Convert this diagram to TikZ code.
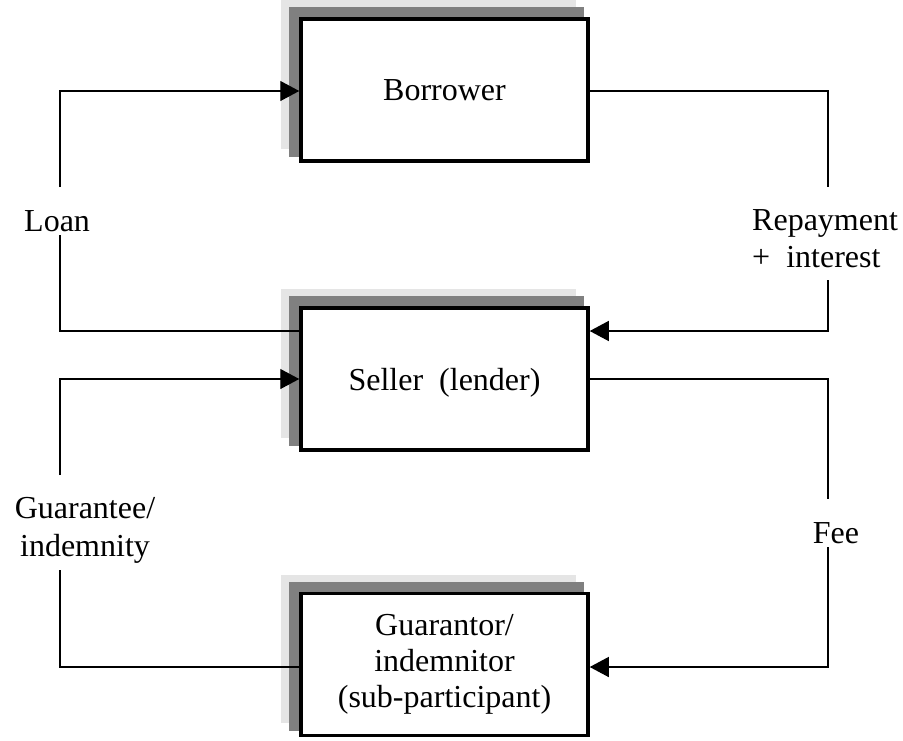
\documentclass[tikz,border=0pt]{standalone}
\usepackage{fontspec}
\setmainfont{Liberation Serif}
\usetikzlibrary{arrows.meta,backgrounds}
\begin{document}
\begin{tikzpicture}[x=1pt,y=-1pt,
  box/.style={draw=black,line width=3.5pt,fill=white,minimum width=287pt,minimum height=142pt,inner sep=0pt,align=center,font=\fontsize{32}{36}\selectfont},
  lbl/.style={inner sep=0pt,font=\fontsize{32}{36}\selectfont},
  conn/.style={line width=1.3pt},
  arr/.style={conn,-{Triangle[length=19pt,width=20pt]}},
  darkshadow/.style={fill=black!50},
  lightshadow/.style={fill=black!10}
  ]
\useasboundingbox (0,0) rectangle (903,740);

% boxes
\node[box] (b) at (444.5,90) {Borrower};
\node[box,text depth=0pt] (s) at (444.5,379) {Seller\ \ (lender)};
\node[box] (g) at (444.5,664.5) {Guarantor/\\indemnitor\\(sub-participant)};

% shadows
\begin{scope}[on background layer]
\foreach \n in {b,s,g}{
  \fill[lightshadow] ([shift={(-18,-17)}]\n.north west) rectangle ([shift={(-14,-14)}]\n.south east);
  \fill[darkshadow] ([shift={(-10,-10)}]\n.north west) rectangle ([shift={(-6,-6)}]\n.south east);
}
\end{scope}

% labels
\node[lbl,anchor=base west] (loan) at (24,231) {Loan};
\node[lbl,anchor=base west] (rep1) at (752,230) {Repayment};
\node[lbl,anchor=base west] (rep2) at (752,267) {+\ \ interest};
\node[lbl,anchor=base] (gua1) at (85,518) {Guarantee/};
\node[lbl,anchor=base] (gua2) at (85,556) {indemnity};
\node[lbl,anchor=base] (fee) at (836,543) {Fee};

% connector ends
\coordinate (loanT) at (60,187);
\coordinate (loanB) at (60,235);
\coordinate (repT) at (828,187);
\coordinate (repB) at (828,280);
\coordinate (guaT) at (60,475);
\coordinate (guaB) at (60,570);
\coordinate (feeT) at (828,499);
\coordinate (feeB) at (828,547);

% Loan
\draw[arr] (loanT) |- ([yshift=-1pt]b.west);
\draw[conn] ([yshift=48pt]s.west) -| (loanB);
% Repayment + interest
\draw[conn] ([yshift=-1pt]b.east) -| (repT);
\draw[arr] (repB) |- ([yshift=48pt]s.east);
% Guarantee / indemnity
\draw[arr] (guaT) |- (s.west);
\draw[conn] ([yshift=-2.5pt]g.west) -| (guaB);
% Fee
\draw[conn] (s.east) -| (feeT);
\draw[arr] (feeB) |- ([yshift=-2.5pt]g.east);
\end{tikzpicture}
\end{document}
